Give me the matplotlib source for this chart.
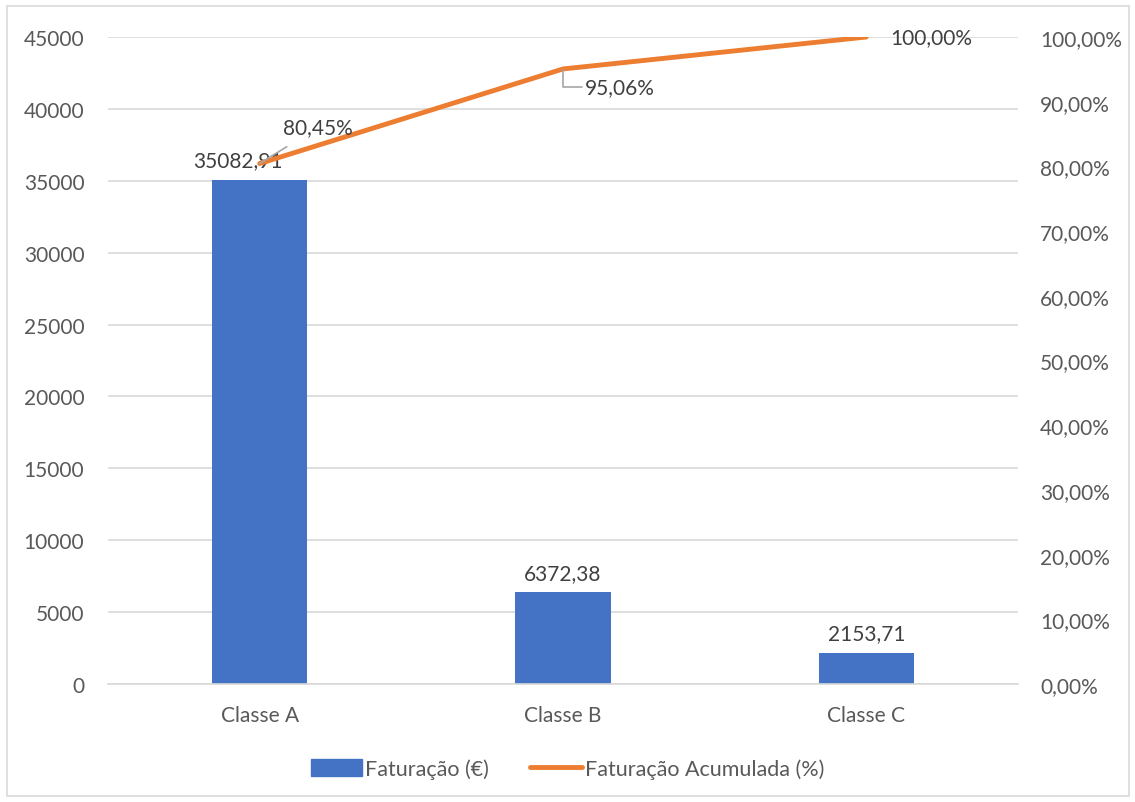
import matplotlib.pyplot as plt
from matplotlib.patches import Rectangle
from matplotlib.lines import Line2D
from matplotlib.ticker import FuncFormatter, MultipleLocator

categories = ["Classe A", "Classe B", "Classe C"]
revenue = [35082.91, 6372.38, 2153.71]
cumulative_pct = [80.45, 95.06, 100.00]

plt.rcParams['font.family'] = ['Lato', 'DejaVu Sans']

BLUE = "#4472C4"
ORANGE = "#ED7D31"
GRID = "#D9D9D9"
TICK = "#595959"
LABEL = "#404040"
FS = 15

fig = plt.figure(figsize=(11.35, 8.03), dpi=100)
fig.patches.append(Rectangle((7 / 1135, 6 / 803), 1122 / 1135, 790 / 803,
                             transform=fig.transFigure, fill=False,
                             edgecolor=GRID, linewidth=1.2))

ax = fig.add_axes([108 / 1135, 1 - 685 / 803, 910 / 1135, (685 - 38) / 803])
ax2 = ax.twinx()

x = list(range(len(categories)))
ax.bar(x, revenue, width=0.315, color=BLUE, zorder=2)
ax.set_xlim(-0.5, 2.5)
ax.set_ylim(0, 45000)
ax.yaxis.set_major_locator(MultipleLocator(5000))
ax.grid(axis='y', color=GRID, linewidth=1.2, zorder=0)
ax.set_axisbelow(True)
ax.set_xticks(x)
ax.set_xticklabels(categories)

ax2.plot(x, cumulative_pct, color=ORANGE, linewidth=3.5, solid_capstyle='round', zorder=3)
ax2.set_ylim(0, 100)
ax2.yaxis.set_major_locator(MultipleLocator(10))
ax2.yaxis.set_major_formatter(FuncFormatter(lambda v, _: f"{v:.2f}%".replace('.', ',')))

for a in (ax, ax2):
    for s in a.spines.values():
        s.set_visible(False)
    a.tick_params(length=0, labelsize=FS, colors=TICK)
ax.tick_params(axis='y', pad=17)
ax2.tick_params(axis='y', pad=16)
ax.tick_params(axis='x', pad=15)
ax.spines['bottom'].set_visible(True)
ax.spines['bottom'].set_color(GRID)
ax.spines['bottom'].set_linewidth(1.2)

# value labels on bars
fmt = lambda v: f"{v:.2f}".replace('.', ',')
bar_offsets = [(-16, 7), (0, 7), (0, 7)]
for xi, v, (dx, dy) in zip(x, revenue, bar_offsets):
    ax.annotate(fmt(v), (xi, v), xytext=(dx, dy), textcoords='offset points',
                ha='center', va='bottom', fontsize=FS, color=LABEL, zorder=4)

# cumulative percentage labels with leader lines
pct = lambda v: f"{v:.2f}%".replace('.', ',')
ax2.annotate(pct(cumulative_pct[0]), (x[0], cumulative_pct[0]),
             xytext=(42, 26), textcoords='offset points', ha='center', va='center',
             fontsize=FS, color=LABEL, zorder=4,
             arrowprops=dict(arrowstyle='-', color='#A6A6A6', lw=1.2,
                             shrinkA=9, shrinkB=0))
ax2.annotate(pct(cumulative_pct[1]), (x[1], cumulative_pct[1]),
             xytext=(16, -13), textcoords='offset points', ha='left', va='center',
             fontsize=FS, color=LABEL, zorder=4,
             arrowprops=dict(arrowstyle='-', color='#A6A6A6', lw=1.2,
                             shrinkA=0, shrinkB=1,
                             connectionstyle='angle,angleA=0,angleB=90,rad=0'))
ax2.annotate(pct(cumulative_pct[2]), (x[2], cumulative_pct[2]),
             xytext=(17, 0), textcoords='offset points', ha='left', va='center',
             fontsize=FS, color=LABEL, zorder=4)

handles = [Rectangle((0, 0), 1, 1, color=BLUE),
           Line2D([0], [0], color=ORANGE, linewidth=3.5, solid_capstyle='round')]
fig.legend(handles, ["Faturação (€)", "Faturação Acumulada (%)"],
           loc='center', bbox_to_anchor=(0.5, 1 - 770 / 803), ncol=2, frameon=False,
           fontsize=FS + 0.5, labelcolor=TICK, handlelength=2.4, handletextpad=0.15,
           columnspacing=1.9, handleheight=0.85)

fig.savefig("out.png", dpi=100)
